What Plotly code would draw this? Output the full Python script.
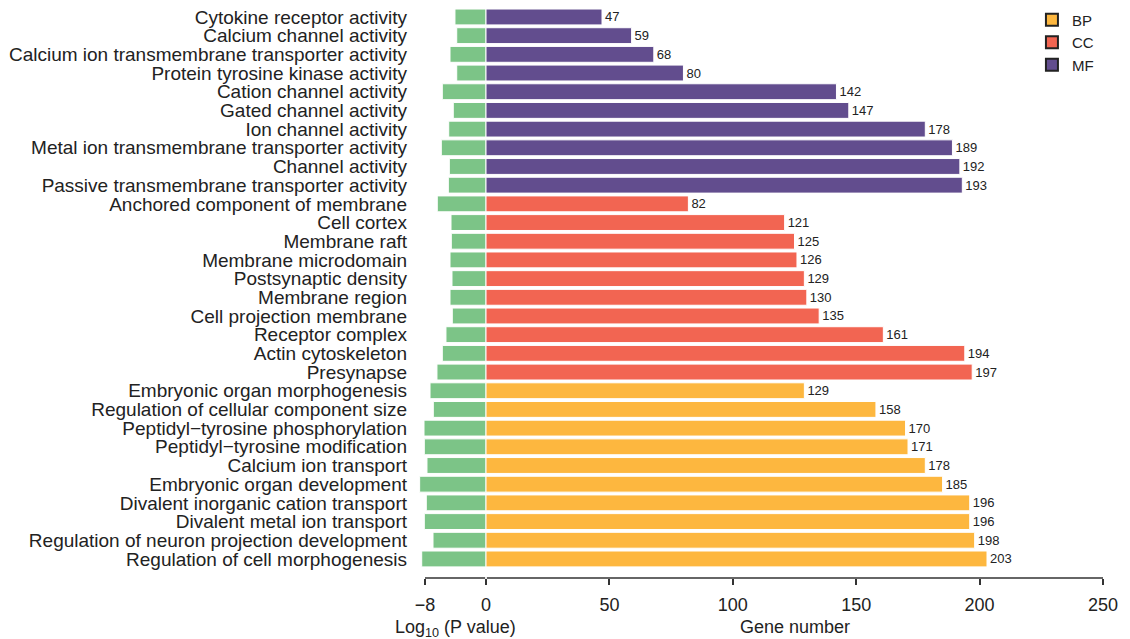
import plotly.graph_objects as go

categories = [
    "Cytokine receptor activity", "Calcium channel activity",
    "Calcium ion transmembrane transporter activity", "Protein tyrosine kinase activity",
    "Cation channel activity", "Gated channel activity", "Ion channel activity",
    "Metal ion transmembrane transporter activity", "Channel activity",
    "Passive transmembrane transporter activity",
    "Anchored component of membrane", "Cell cortex", "Membrane raft",
    "Membrane microdomain", "Postsynaptic density", "Membrane region",
    "Cell projection membrane", "Receptor complex", "Actin cytoskeleton", "Presynapse",
    "Embryonic organ morphogenesis", "Regulation of cellular component size",
    "Peptidyl\u2212tyrosine phosphorylation", "Peptidyl\u2212tyrosine modification",
    "Calcium ion transport", "Embryonic organ development",
    "Divalent inorganic cation transport", "Divalent metal ion transport",
    "Regulation of neuron projection development", "Regulation of cell morphogenesis",
]
groups = ["MF"] * 10 + ["CC"] * 10 + ["BP"] * 10
gene_number = [47, 59, 68, 80, 142, 147, 178, 189, 192, 193,
               82, 121, 125, 126, 129, 130, 135, 161, 194, 197,
               129, 158, 170, 171, 178, 185, 196, 196, 198, 203]
log10_p = [-4.07, -3.84, -4.72, -3.84, -5.73, -4.29, -4.89, -5.86, -4.81, -4.94,
           -6.39, -4.59, -4.55, -4.72, -4.46, -4.72, -4.42, -5.25, -5.73, -6.43,
           -7.34, -6.91, -8.13, -8.09, -7.74, -8.70, -7.83, -8.09, -6.95, -8.43]
p_ticks = [-8, 0]
gene_ticks = [50, 100, 150, 200, 250]

colors = {"BP": "#FDB73F", "CC": "#F26552", "MF": "#624D8E"}
green = "#7CC487"
K = 3.09  # left-panel scale: gene units per log10 unit
FONT = "Liberation Sans, Arial, sans-serif"
TXT = "#222222"

rows = list(range(len(categories)))

fig = go.Figure()
fig.add_trace(go.Bar(
    y=rows, x=[v * K for v in log10_p], orientation="h",
    marker=dict(color=green, line=dict(color="white", width=1)),
    showlegend=False, hoverinfo="skip"))
for g in ["MF", "CC", "BP"]:
    ys = [r for r, gg in zip(rows, groups) if gg == g]
    xs = [v for v, gg in zip(gene_number, groups) if gg == g]
    fig.add_trace(go.Bar(
        y=ys, x=xs, orientation="h", name=g,
        marker=dict(color=colors[g], line=dict(color="white", width=1)),
        text=[str(v) for v in xs], textposition="outside",
        textfont=dict(size=13, color=TXT, family=FONT),
        cliponaxis=False, showlegend=False))
for g in ["BP", "CC", "MF"]:
    fig.add_trace(go.Scatter(
        x=[None], y=[None], mode="markers", name=g,
        marker=dict(symbol="square", size=13, color=colors[g],
                    line=dict(color="#222222", width=1.5))))

px_per_gene = 2.468
x_left = (413 - 486) / px_per_gene
x_right = (1110 - 486) / px_per_gene

fig.update_layout(
    width=1130, height=639,
    margin=dict(l=405, r=28, t=0, b=69, autoexpand=False),
    paper_bgcolor="white", plot_bgcolor="white",
    barmode="overlay", bargap=0.15,
    font=dict(family=FONT, color=TXT, size=16),
    legend=dict(x=0.888, y=1.008, xanchor="left", yanchor="top",
                font=dict(size=15, color=TXT), tracegroupgap=0,
                itemsizing="constant", bgcolor="rgba(0,0,0,0)"),
    xaxis=dict(range=[x_left, x_right], showgrid=False, zeroline=False,
               showline=False, ticks="outside", ticklen=6, tickwidth=1.5,
               tickcolor="#333333", automargin=False, ticklabelstandoff=4,
               tickvals=[t * K for t in p_ticks] + gene_ticks,
               ticktext=[str(t).replace("-", "\u2212") for t in p_ticks] + [str(t) for t in gene_ticks],
               tickfont=dict(size=18, color=TXT)),
    yaxis=dict(tickmode="array", tickvals=rows, ticktext=categories,
               range=[30.02, -0.48], showgrid=False, zeroline=False,
               showline=False, ticks="", automargin=False, ticklabelstandoff=5,
               ticklabeloverflow="allow",
               tickfont=dict(size=19, color=TXT)),
)
fig.add_shape(type="line", xref="x", yref="paper", x0=-8 * K, x1=-0.35, y0=0, y1=0,
              line=dict(color="#333333", width=1.5))
fig.add_shape(type="line", xref="x", yref="paper", x0=0.35, x1=250, y0=0, y1=0,
              line=dict(color="#333333", width=1.5))
fig.add_annotation(text="Log<sub>10</sub> (P value)", xref="x", yref="paper",
                   x=-4 * K, y=0, yanchor="top", yshift=-37, showarrow=False,
                   font=dict(size=18, color=TXT))
fig.add_annotation(text="Gene number", xref="x", yref="paper",
                   x=125, y=0, yanchor="top", yshift=-37, showarrow=False,
                   font=dict(size=18, color=TXT))

fig.write_html("out.html")
